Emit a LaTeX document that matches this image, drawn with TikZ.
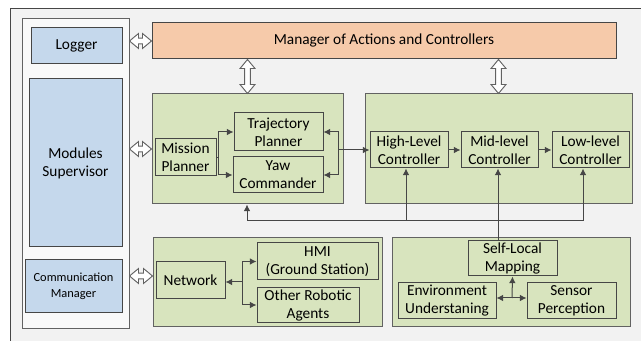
\documentclass[tikz,border=0pt]{standalone}
\usepackage{fontspec}
\setmainfont{Carlito}
\usetikzlibrary{arrows.meta}
\usetikzlibrary{calc}
\definecolor{bggray}{RGB}{242,242,242}
\definecolor{colgray}{RGB}{249,249,249}
\definecolor{edgegray}{RGB}{70,70,70}
\definecolor{boxgreen}{RGB}{216,228,190}
\definecolor{boxblue}{RGB}{197,216,236}
\definecolor{boxorange}{RGB}{246,202,170}
\tikzset{x=0.75pt, y=-0.75pt,
    sz/.style 2 args={
        minimum width=#1*0.75pt,
        minimum height=#2*0.75pt},
    every node/.style={
        inner sep=1pt,
        align=center,
        font=\fontsize{11.5}{13.5}\selectfont},
    group/.style={
        draw=edgegray!85,
        fill=boxgreen,
        line width=0.75pt},
    blk/.style={
        draw=edgegray,
        fill=boxgreen,
        line width=0.75pt},
    bluebox/.style={
        draw=edgegray,
        fill=boxblue,
        line width=0.75pt},
    hollow/.pic={
        \draw[draw=edgegray!85, fill=white, line width=0.7pt, line join=miter]
            (0pt,0pt) -- (6.75pt,5.6pt) -- (6.75pt,2.1pt)
            -- ({#1*1pt-6.75pt},2.1pt) -- ({#1*1pt-6.75pt},5.6pt)
            -- ({#1*1pt},0pt) -- ({#1*1pt-6.75pt},-5.6pt) -- ({#1*1pt-6.75pt},-2.1pt)
            -- (6.75pt,-2.1pt) -- (6.75pt,-5.6pt) -- cycle;},
    conn/.style={
        draw=edgegray,
        -{Latex[length=5pt,width=5pt]},
        line width=0.75pt}}
\newcommand{\hollowarrow}[2]{%
    \path let \p1=(#1), \p2=(#2),
        \n1={veclen(\x2-\x1,\y2-\y1)}, \n2={atan2(\y2-\y1,\x2-\x1)} in
        (\p1) pic[rotate=\n2] {hollow=\n1};}

\begin{document}
\begin{tikzpicture}
        \useasboundingbox (0,0) rectangle (641,341);
        \clip (0,0) rectangle (641,341);
        \draw[draw=edgegray, fill=bggray, line width=0.75pt] (10,9) rectangle (660,360);

        % supervision column
        \node[draw=edgegray!85, fill=colgray, line width=0.75pt, sz={107}{309}] (col) at (75.5,173.5) {};
        \node[bluebox, sz={91}{36}] (log) at (76.5,46) {Logger};
        \node[bluebox, sz={93}{168}] (sup) at (75.5,163) {Modules\\Supervisor};
        \node[bluebox, sz={97}{53}, font=\fontsize{9.3}{12}\selectfont] (com) at (73.5,286.5) {Communication\\Manager};

        \node[draw=edgegray, fill=boxorange, line width=0.75pt, sz={464}{36}] (mgr) at (384,41) {Manager of Actions and Controllers};

        % groups
        \node[group, sz={191}{110}] (plan) at (247.5,149) {};
        \node[group, sz={267}{110}] (ctrl) at (498.5,149) {};
        \node[group, sz={229}{88}] (net) at (267.5,282) {};
        \node[group, sz={238}{88}] (perc) at (511,282) {};

        % planning
        \node[blk, sz={61}{37}] (mis) at (185.5,157.5) {Mission\\Planner};
        \node[blk, sz={89}{38}] (traj) at (278.5,132) {Trajectory\\Planner};
        \node[blk, sz={90}{36}] (yaw) at (278,175) {Yaw\\Commander};

        % control
        \node[blk, sz={78}{36}] (hl) at (409,150) {High-Level\\Controller};
        \node[blk, sz={77}{36}] (mid) at (499.5,150) {Mid-level\\Controller};
        \node[blk, sz={77}{36}] (low) at (590.5,150) {Low-level\\Controller};

        % communication
        \node[blk, sz={69}{37}] (nw) at (190.5,280.5) {Network};
        \node[blk, sz={121}{37}] (hmi) at (317.5,261.5) {HMI\\(Ground Station)};
        \node[blk, sz={102}{34}] (oth) at (308,305) {Other Robotic\\Agents};

        % perception
        \node[blk, sz={89}{35}] (slm) at (512.5,258.5) {Self-Local\\Mapping};
        \node[blk, sz={98}{35}] (env) at (447,300.5) {Environment\\Understaning};
        \node[blk, sz={89}{35}] (sen) at (571.5,300.5) {Sensor\\Perception};

        % hollow links
        \hollowarrow{col.east |- mgr.west}{mgr.west}
        \hollowarrow{col.east |- plan.west}{plan.west}
        \hollowarrow{col.east |- 0,276}{0,276 -| net.west}
        \hollowarrow{mgr.south -| plan.north}{plan.north}
        \hollowarrow{mgr.south -| ctrl.north}{ctrl.north}

        % links
        \draw[conn] (mis.east) -- ++(2,0) |- (traj.west);
        \draw[conn] (mis.east) -- ++(2,0) |- (yaw.west);

        \coordinate (jp) at (338,150);
        \draw[conn] (jp) |- (traj.east);
        \draw[conn] (jp) |- (yaw.east);
        \draw[conn] (jp) -- (hl.west);

        \draw[conn] (hl) -- (mid);
        \draw[conn] (mid) -- (low);

        \coordinate (fbl) at (247,221);
        \coordinate (fbh) at (406,221);
        \coordinate (fbm) at (498,221);
        \coordinate (fbr) at (583,221);
        \draw[conn] (fbl) -- (fbl |- plan.south);
        \draw[draw=edgegray, line width=0.75pt] (fbl) -- (fbr);
        \draw[conn] (fbh) -- (fbh |- hl.south);
        \draw[conn] (fbr) -- (fbr |- low.south);
        \draw[conn] (fbm |- slm.north) -- (fbm |- mid.south);

        \coordinate (nj) at (242,282);
        \draw[conn] (nj) -- (nj -| nw.east);
        \draw[conn] (nj) |- (hmi.west);
        \draw[conn] (nj) |- (oth.west);

        \coordinate (pj) at (512,298);
        \draw[conn] (pj) -- (slm.south);
        \draw[conn] (pj) -- (pj -| env.east);
        \draw[conn] (pj) -- (pj -| sen.west);
    \end{tikzpicture}
\end{document}
